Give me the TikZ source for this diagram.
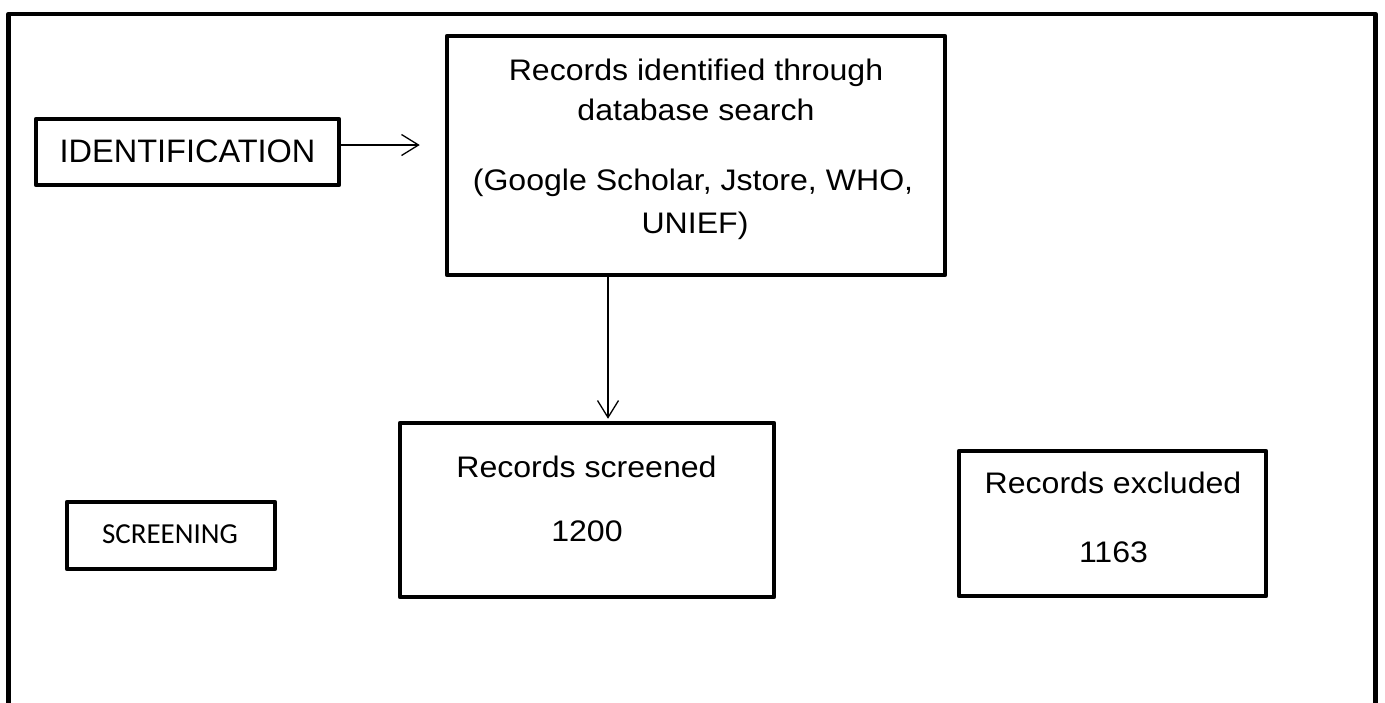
\documentclass[tikz,border=0pt]{standalone}
\usepackage{fontspec}
\setmainfont{Liberation Sans}[FakeStretch=1.08]
\newfontfamily\plainsans{Liberation Sans}
\newfontfamily\calib{Carlito}
\usetikzlibrary{arrows.meta}
\begin{document}
\begin{tikzpicture}[x=1pt,y=-1pt,
  box/.style={draw, line width=4.5pt, line join=round, inner sep=0pt, rectangle},
  txt/.style={anchor=base, inner sep=0pt, font=\fontsize{29.7}{36}\selectfont},
  itxt/.style={anchor=base, inner sep=0pt, font=\plainsans\fontsize{32.5}{38}\selectfont},
  stxt/.style={anchor=base, inner sep=0pt, font=\calib\fontsize{29}{34}\selectfont},
  arr/.style={line width=1.3pt, -{Straight Barb[length=17pt,width=21pt,line width=1.3pt]}}]
\useasboundingbox (0,0) rectangle (1385,702);
% outer frame (open at the bottom)
\draw[line width=4.5pt, line join=round] (8.5,710) -- (8.5,14) -- (1375.5,14) -- (1375.5,710);
% boxes
\node[box, minimum width=303pt, minimum height=66pt] (ident) at (187.5,152) {};
\node[box, minimum width=498pt, minimum height=239pt] (top) at (696,155.5) {};
\node[box, minimum width=374pt, minimum height=174pt] (scr) at (587,510) {};
\node[box, minimum width=307pt, minimum height=145pt] (exc) at (1112.5,523.5) {};
\node[box, minimum width=208pt, minimum height=67pt] (scrlab) at (171,535.5) {};
% texts
\node[itxt] (identt) at (187.5,162) {IDENTIFICATION};
\node[txt] (top1) at (696,80) {Records identified through};
\node[txt] (top2) at (696,120) {database search};
\node[txt] (top3) at (693,190) {(Google Scholar, Jstore, WHO,};
\node[txt] (top4) at (695,233) {UNIEF)};
\node[txt] (scr1) at (586.5,477) {Records screened};
\node[txt] (scr2) at (587,541) {1200};
\node[txt] (exc1) at (1113,493) {Records excluded};
\node[txt] (exc2) at (1113.5,562) {1163};
\node[stxt] (scrlabt) at (170,543) {SCREENING};
% connectors
\coordinate (h0) at ([yshift=7pt]ident.east);
\draw[arr, shorten >=25pt] (h0) -- (h0 -| top.west);
\coordinate (v0) at ([xshift=-88pt,yshift=3pt]top.south);
\draw[arr, shorten >=2pt] (v0) -- (v0 |- scr.north);
\end{tikzpicture}
\end{document}
